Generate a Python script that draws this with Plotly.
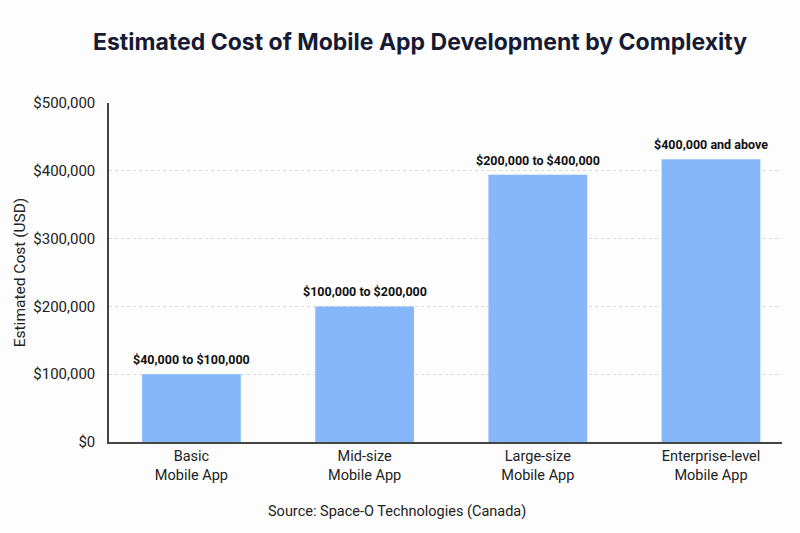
import plotly.graph_objects as go

categories = ["Basic<br>Mobile App", "Mid-size<br>Mobile App", "Large-size<br>Mobile App", "Enterprise-level<br>Mobile App"]
costs = [100000, 200000, 394000, 417000]
range_labels = ["$40,000 to $100,000", "$100,000 to $200,000", "$200,000 to $400,000", "$400,000 and above"]
tick_vals = [0, 100000, 200000, 300000, 400000, 500000]
tick_text = ["$0", "$100,000", "$200,000", "$300,000", "$400,000", "$500,000"]

xpos = list(range(len(categories)))

fig = go.Figure()
fig.add_trace(go.Bar(
    x=xpos, y=costs, width=0.57,
    marker=dict(color="#86b7fa", line=dict(width=0)),
    hoverinfo="skip",
))

for xi, v, t in zip(xpos, costs, range_labels):
    fig.add_annotation(x=xi, y=v, text=t, showarrow=False, xref="x", yref="y",
                       yanchor="bottom", yshift=5,
                       font=dict(family="Roboto", size=12.5, color="#111111", weight="bold"))

fig.add_annotation(x=(397 - 109) / 673, y=(441.7 - 511) / 338.7, xref="paper", yref="paper",
                   text="Source: Space-O Technologies (Canada)", showarrow=False,
                   xanchor="center", yanchor="middle",
                   font=dict(family="Roboto", size=14.5, color="#222222"))

fig.update_layout(
    width=800, height=533,
    paper_bgcolor="#fdfdfd", plot_bgcolor="#fdfdfd",
    margin=dict(l=109, r=18, t=103, b=91),
    showlegend=False,
    title=dict(text="<b>Estimated Cost of Mobile App Development by Complexity</b>",
               x=420/800, xanchor="center", y=1 - 42/533, yanchor="middle",
               font=dict(family="Inter", size=23, color="#161a33")),
    xaxis=dict(
        tickmode="array", tickvals=xpos, ticktext=categories,
        range=[-0.476, 3.41], showgrid=False, zeroline=False,
        showline=True, linecolor="#444444", linewidth=1.5,
        ticks="", tickfont=dict(family="Roboto", size=14.5, color="#222222"),
        fixedrange=True,
    ),
    yaxis=dict(
        range=[0, 500000], tickmode="array", tickvals=tick_vals, ticktext=tick_text,
        showgrid=True, gridcolor="#d9d9d9", griddash="dot", gridwidth=1,
        zeroline=False, showline=True, linecolor="#444444", linewidth=1.5,
        ticks="", ticklabelstandoff=9,
        tickfont=dict(family="Roboto", size=15, color="#222222"),
        title=dict(text="Estimated Cost (USD)", standoff=4,
                   font=dict(family="Roboto", size=15.5, color="#222222")),
        fixedrange=True,
    ),
)

fig.write_html("out.html")
